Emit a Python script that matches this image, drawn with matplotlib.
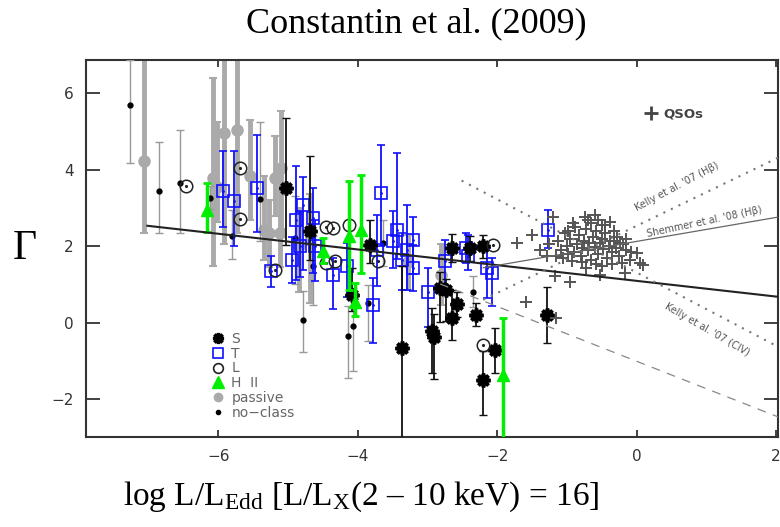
import numpy as np
import matplotlib
matplotlib.use("Agg")
import matplotlib.pyplot as plt

plt.rcParams['mathtext.fontset'] = 'custom'
plt.rcParams['mathtext.rm'] = 'Liberation Serif'
plt.rcParams['mathtext.it'] = 'Liberation Serif:italic'

# passive galaxies: x, y, err low, err high
pas_x = [-7.07, -6.08, -6.02, -5.92, -5.74, -5.55, -5.28, -5.19, -5.10, -5.34, -5.12, -4.85, -4.69, -3.28, -2.80]
pas_y = [4.22, 3.79, 3.55, 4.96, 5.05, 3.83, 2.36, 3.79, 4.05, 2.44, 2.35, 2.00, 2.18, 1.60, 1.26]
pas_lo = [1.86, 2.30, 0.90, 2.90, 2.70, 1.13, 0.90, 1.00, 1.60, 0.80, 0.90, 1.20, 1.65, 0.75, 0.80]
pas_hi = [3.00, 2.60, 1.70, 2.50, 2.50, 1.48, 0.85, 1.09, 1.50, 1.40, 1.30, 1.00, 1.20, 0.70, 0.80]

# no-class
nc_x = [-7.27, -6.85, -6.55, -6.12, -5.41, -5.81, -4.79, -4.14, -4.07, -3.85, -2.34, -4.90, -4.64, -3.64]
nc_y = [5.70, 3.44, 3.66, 3.27, 3.25, 2.26, 0.08, -0.33, -0.09, 0.52, 0.82, 2.22, 1.48, 2.09]
nc_lo = [1.52, 1.09, 1.31, 0.30, 1.10, 0.60, 0.85, 1.10, 1.17, 1.00, 0.40, 1.20, 1.00, 0.60]
nc_hi = [1.17, 1.28, 1.39, 0.30, 2.00, 0.70, 0.76, 0.76, 1.00, 0.48, 0.40, 1.10, 0.80, 0.60]

# T (transition)
t_x = [-5.94, -5.77, -5.45, -4.88, -4.79, -4.64, -4.62, -4.83, -4.95, -5.25, -4.35, -4.16, -3.66, -3.73,
       -3.78, -3.44, -3.49, -3.37, -3.30, -3.21, -3.21, -2.99, -2.75, -2.44, -2.42, -2.15, -2.08, -1.27]
t_y = [3.44, 3.18, 3.53, 2.70, 3.09, 2.74, 2.00, 2.00, 1.65, 1.35, 1.26, 1.48, 3.40, 1.91,
       0.48, 2.44, 2.13, 1.65, 1.91, 2.18, 1.44, 0.82, 1.61, 1.96, 1.74, 1.43, 1.30, 2.44]
t_lo = [0.92, 1.18, 1.16, 1.57, 1.70, 1.43, 0.90, 0.80, 0.60, 0.40, 0.90, 0.80, 1.40, 0.95,
        1.00, 0.78, 0.70, 0.80, 1.05, 0.90, 0.60, 0.92, 0.61, 0.40, 0.35, 0.79, 0.87, 0.48]
t_hi = [1.04, 1.30, 1.39, 1.40, 0.73, 0.79, 0.70, 0.90, 0.60, 0.40, 0.44, 0.60, 1.24, 0.92,
        0.69, 2.00, 0.80, 0.70, 1.18, 0.60, 0.60, 0.61, 0.56, 0.40, 0.55, 0.52, 0.39, 0.52]

# S (Seyfert)
s_x = [-5.03, -4.69, -4.09, -3.83, -3.37, -2.93, -2.90, -2.82, -2.74, -2.58, -2.65, -2.65, -2.39, -2.20, -2.30, -2.20, -2.03, -1.29]
s_y = [3.53, 2.39, 0.74, 2.04, -0.66, -0.20, -0.36, 0.92, 0.86, 0.50, 0.13, 1.96, 1.96, 2.00, 0.21, -1.48, -0.70, 0.21]
s_lo = [1.50, 0.74, 0.44, 0.48, 3.00, 1.10, 1.10, 0.90, 0.80, 0.35, 0.57, 0.37, 0.35, 0.30, 0.30, 0.92, 0.61, 0.74]
s_hi = [1.83, 1.96, 0.69, 0.65, 2.14, 0.60, 0.60, 0.40, 0.30, 0.30, 0.73, 0.37, 0.30, 0.30, 0.31, 0.74, 0.57, 0.74]

# L (LINER)
l_x = [-6.47, -5.69, -5.69, -5.19, -4.45, -4.35, -4.45, -4.33, -4.12, -3.71, -2.06, -2.20]
l_y = [3.57, 4.05, 2.72, 1.39, 2.52, 2.48, 1.57, 1.61, 2.57, 1.61, 2.04, -0.57]

# H II
h_x = [-6.17, -4.50, -4.12, -4.04, -3.95, -1.91]
h_y = [2.96, 1.87, 2.26, 0.56, 2.44, -1.35]
h_lo = [0.58, 0.30, 1.39, 0.39, 1.14, 2.00]
h_hi = [0.70, 0.36, 1.44, 0.49, 1.43, 1.48]

# QSOs
q_x = [-1.72, -1.20, -1.39, -1.29, -1.58, -1.17, -1.15, -0.96, -0.72, -0.50, -0.53, -0.17, -0.21, 0.10,
       0.00, -0.24, -0.38, -0.74, -0.60, -0.91, -0.98, -0.50, 0.05, -0.33, -1.50, -1.25, -0.08, -1.05,
       -1.00, -0.95, -0.90, -0.85, -0.82, -0.80, -0.78, -0.75, -0.72, -0.70, -0.68, -0.65, -0.62, -0.60,
       -0.58, -0.55, -0.52, -0.50, -0.48, -0.45, -0.42, -0.40, -0.38, -0.35, -0.30, -0.28, -0.25, -0.20,
       -0.15, -0.10, -0.88, -1.08, -1.12, -0.98, -0.66, -0.45, -0.58, -0.35, -0.78, -1.02, -0.92, -0.70,
       -0.55, -0.32, -0.15, -1.15]
q_y = [2.10, 2.78, 1.91, 1.74, 0.56, 1.22, 0.13, 1.08, 1.43, 1.48, 1.26, 1.30, 1.57, 1.52,
       1.83, 2.09, 2.65, 2.78, 2.83, 2.61, 2.39, 2.57, 1.57, 2.13, 2.30, 2.05, 1.85, 1.70,
       2.00, 2.20, 1.85, 2.05, 2.30, 1.75, 1.95, 2.15, 2.45, 1.90, 2.10, 1.65, 2.25, 1.98,
       2.40, 1.80, 2.08, 2.20, 1.92, 2.35, 1.70, 2.00, 2.15, 1.85, 1.95, 2.25, 1.75, 2.05,
       1.90, 1.65, 2.50, 1.90, 2.15, 1.80, 2.60, 2.55, 1.55, 1.55, 1.60, 2.35, 1.62, 2.70,
       2.70, 2.40, 2.20, 1.75]

# relations: (x start, x end, slope, intercept at x=0)
fit_rel = (-7.02, 2.05, -0.205, 1.10)
shemmer_rel = (-2.2, 2.05, 0.313, 2.13)
kelly_hb_rel = (-2.2, 2.05, 0.877, 2.536)
kelly_civ_rel = (-2.51, 2.05, -0.956, 1.320)
dashed_rel = (-2.82, 2.05, -0.716, -1.00)


def rel_line(r):
    xs = np.array([r[0], r[1]])
    return xs, r[3] + r[2] * xs


fig = plt.figure(figsize=(7.8, 5.27), dpi=100)
ax = fig.add_axes([0.1103, 0.1708, 0.8871, 0.7153])

ax.errorbar(pas_x, pas_y, yerr=[pas_lo, pas_hi], fmt='o', color='#aaaaaa', ms=8,
            elinewidth=3.5, capsize=3, capthick=1.5, zorder=2)
ax.errorbar(nc_x, nc_y, yerr=[nc_lo, nc_hi], fmt='o', color='black', ms=3.5,
            ecolor='#999999', elinewidth=1, capsize=3, zorder=3)
ax.errorbar(t_x, t_y, yerr=[t_lo, t_hi], fmt='s', color='#1010ff', ms=9, mfc='none',
            mew=1.2, elinewidth=1.3, capsize=3, zorder=4)
ax.plot(t_x, t_y, '.', color='#1010ff', ms=2, zorder=4)
ax.errorbar(s_x, s_y, yerr=[s_lo, s_hi], fmt='none', ecolor='#111111',
            elinewidth=1.3, capsize=3, zorder=5)
ax.plot(s_x, s_y, marker=(8, 2, 0), ls='none', color='black', ms=10, mew=2.6, zorder=5)
ax.plot(l_x, l_y, 'o', color='#222222', ms=9, mfc='none', mew=1.1, zorder=5)
ax.plot(l_x, l_y, '.', color='#222222', ms=2.5, zorder=5)
ax.errorbar(h_x, h_y, yerr=[h_lo, h_hi], fmt='^', color='#00ee00', ms=8,
            elinewidth=2.5, capsize=3, capthick=2, zorder=6)
ax.plot(q_x, q_y, '+', color='#555555', ms=9, mew=1.4, zorder=6)

xs, ys = rel_line(fit_rel)
ax.plot(xs, ys, color='#222222', lw=1.5, zorder=7)
xs, ys = rel_line(shemmer_rel)
ax.plot(xs, ys, color='#666666', lw=0.9, zorder=7)
xs, ys = rel_line(kelly_hb_rel)
ax.plot(xs, ys, color='#777777', lw=1.5, ls=(0, (1, 3)), zorder=7)
xs, ys = rel_line(kelly_civ_rel)
ax.plot(xs, ys, color='#777777', lw=1.5, ls=(0, (1, 3)), zorder=7)
xs, ys = rel_line(dashed_rel)
ax.plot(xs, ys, color='#888888', lw=0.9, ls=(0, (7, 6)), zorder=7)

ax.plot([0.207], [5.49], '+', color='#444444', ms=10, mew=2)
ax.text(0.39, 5.45, 'QSOs', fontsize=9.5, color='#444444', va='center', fontweight='bold')
ax.text(0.58, 3.56, "Kelly et al. '07 (Hβ)", fontsize=7, color='#555555', rotation=28,
        ha='center', va='center')
ax.text(0.98, 2.64, "Shemmer et al. '08 (Hβ)", fontsize=7, color='#555555', rotation=12,
        ha='center', va='center')
ax.text(1.01, -0.18, "Kelly et al. '07 (CIV)", fontsize=7, color='#555555', rotation=-30,
        ha='center', va='center')

# legend
h1, = ax.plot([], [], marker=(8, 2, 0), ls='none', color='black', ms=8, mew=2.4)
h2, = ax.plot([], [], 's', color='#1010ff', ms=7, mfc='none', mew=1.2)
h3, = ax.plot([], [], 'o', color='#222222', ms=7, mfc='none', mew=1.2)
h4, = ax.plot([], [], '^', color='#00ee00', ms=8)
h5, = ax.plot([], [], 'o', color='#aaaaaa', ms=6)
h6, = ax.plot([], [], 'o', color='black', ms=3)
leg = ax.legend([h1, h2, h3, h4, h5, h6], ['S', 'T', 'L', 'H  II', 'passive', 'no\u2212class'],
                loc='upper left', bbox_to_anchor=(0.172, 0.293), frameon=False,
                handlelength=1.0, handletextpad=0.5, labelspacing=0.05,
                borderaxespad=0, fontsize=10)
for t in leg.get_texts():
    t.set_color('#666666')

ax.set_xlim(-7.9, 2.03)
ax.set_ylim(-2.98, 6.87)
ax.set_xticks([-6, -4, -2, 0, 2])
ax.set_yticks([-2, 0, 2, 4, 6])
ax.tick_params(direction='in', top=True, right=True, length=5, width=1.3,
               labelsize=11, labelcolor='#333333', color='#333333', pad=9)
ax.tick_params(axis='y', which='major', left=True, length=10)
for sp in ax.spines.values():
    sp.set_linewidth(1.5)
    sp.set_color('#333333')

fig.text(416 / 780, 1 - 32 / 527, 'Constantin et al. (2009)', family='Liberation Serif',
         fontsize=26, ha='center', va='baseline')
fig.text(123 / 780, 1 - 505 / 527,
         'log L/L$_{\\mathrm{Edd}}$ [L/L$_{\\mathrm{X}}$(2 \u2013 10 keV) = 16]',
         family='Liberation Serif', fontsize=24, ha='left', va='baseline')
fig.text(25 / 780, 1 - 249 / 527, 'Γ', family='Liberation Serif', fontsize=30,
         ha='center', va='center')

fig.savefig('out.png', dpi=100)
